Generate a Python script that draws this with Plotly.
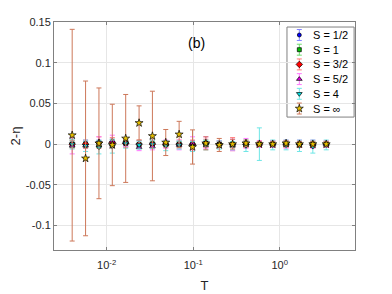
import plotly.graph_objects as go

T = [0.0040, 0.00571, 0.00815, 0.01163, 0.0166, 0.0237, 0.0338, 0.0482, 0.0688, 0.0982,
     0.140, 0.200, 0.285, 0.407, 0.581, 0.829, 1.183, 1.688, 2.41, 3.44]

s_half = [0.000, -0.001, 0.001, 0.002, 0.001, 0.000, 0.001, 0.000, 0.000, 0.001,
          0.000, 0.001, 0.000, 0.000, 0.000, 0.001, 0.000, 0.000, -0.001, 0.000]
s_half_err = [0.004, 0.004, 0.004, 0.004, 0.003, 0.004, 0.003, 0.003, 0.003, 0.003,
              0.003, 0.003, 0.003, 0.003, 0.003, 0.003, 0.003, 0.003, 0.003, 0.003]

s_one = [0.000, 0.000, 0.000, 0.002, 0.001, -0.001, 0.000, 0.000, 0.000, 0.000,
         0.001, 0.000, 0.000, 0.000, 0.000, 0.000, 0.000, 0.000, 0.000, 0.000]
s_one_err = [0.004, 0.004, 0.004, 0.004, 0.004, 0.003, 0.003, 0.003, 0.003, 0.003,
             0.003, 0.003, 0.003, 0.003, 0.003, 0.003, 0.003, 0.003, 0.003, 0.003]

s_3half = [0.000, 0.000, 0.002, 0.002, 0.001, 0.000, 0.000, 0.000, 0.000, 0.000,
           0.001, 0.000, 0.000, 0.000, 0.000, 0.000, 0.000, 0.000, 0.000, 0.000]
s_3half_err = [0.005, 0.005, 0.007, 0.006, 0.005, 0.005, 0.005, 0.004, 0.005, 0.005,
               0.005, 0.004, 0.008, 0.004, 0.004, 0.004, 0.004, 0.004, 0.004, 0.004]

s_5half = [-0.002, -0.002, 0.003, 0.004, 0.002, -0.004, -0.003, 0.000, -0.001, 0.001,
           0.002, 0.000, -0.001, 0.001, 0.000, 0.000, 0.000, 0.001, 0.000, 0.000]
s_5half_err = [0.010, 0.007, 0.006, 0.007, 0.005, 0.004, 0.004, 0.005, 0.006, 0.008,
               0.007, 0.004, 0.007, 0.006, 0.004, 0.004, 0.005, 0.004, 0.005, 0.004]

s_four = [0.000, -0.002, -0.004, -0.003, 0.001, -0.001, 0.000, -0.002, -0.001, -0.003,
          -0.001, -0.001, -0.002, -0.002, 0.000, -0.001, -0.001, -0.002, -0.003, -0.001]
s_four_err = [0.006, 0.007, 0.008, 0.008, 0.006, 0.005, 0.005, 0.006, 0.005, 0.006,
              0.006, 0.005, 0.005, 0.007, 0.020, 0.006, 0.006, 0.007, 0.008, 0.006]

s_inf = [0.011, -0.0175, 0.001, -0.001, 0.007, 0.026, 0.010, 0.002, 0.012, -0.0035,
         0.001, -0.001, 0.000, 0.001, 0.000, 0.000, 0.001, 0.000, 0.000, 0.000]
s_inf_err = [0.130, 0.095, 0.068, 0.050, 0.054, 0.021, 0.055, 0.016, 0.016, 0.021,
             0.008, 0.008, 0.006, 0.004, 0.003, 0.003, 0.003, 0.003, 0.003, 0.003]

names = ["S = 1/2", "S = 1", "S = 3/2", "S = 5/2", "S = 4", "S = ∞"]
ys = [s_half, s_one, s_3half, s_5half, s_four, s_inf]
errs = [s_half_err, s_one_err, s_3half_err, s_5half_err, s_four_err, s_inf_err]
symbols = ["circle", "square", "diamond", "triangle-up", "triangle-down", "star"]
face = ["#0000ff", "#00c000", "#ff0000", "#e000e0", "#00e0e0", "#e8c000"]
ecol = ["rgb(130,130,255)", "rgb(110,220,110)", "rgb(255,120,120)", "rgb(255,120,255)",
        "rgb(110,230,230)", "rgb(205,120,90)"]
sizes = [4, 4, 5, 5, 5, 6]

fig = go.Figure()
for n, y, e, sy, fc, ec, sz in zip(names, ys, errs, symbols, face, ecol, sizes):
    fig.add_trace(go.Scatter(
        x=T, y=y, mode="markers", name=n, showlegend=False,
        marker=dict(symbol=sy, size=sz, color=fc, line=dict(color="black", width=0.7)),
        error_y=dict(type="data", array=e, visible=True, color=ec, thickness=1, width=2.5),
    ))

# compact legend box (plotly's own legend rows are too tall for this small figure)
LEG_X0, LEG_X1, LEG_Y0, LEG_Y1 = 0.774, 0.997, 0.583, 0.978
GLYPH_X, TEXT_X = 0.815, 0.853
ROW_TOP, ROW_STEP = 0.943, 0.0645
fig.add_shape(type="rect", xref="paper", yref="paper",
              x0=LEG_X0, x1=LEG_X1, y0=LEG_Y0, y1=LEG_Y1,
              fillcolor="white", line=dict(color="#808080", width=1), layer="between")
for i, (n, sy, fc, ec, sz) in enumerate(zip(names, symbols, face, ecol, sizes)):
    yc = ROW_TOP - i * ROW_STEP
    fig.add_trace(go.Scatter(
        x=[GLYPH_X], y=[yc], xaxis="x2", yaxis="y2", mode="markers", showlegend=False,
        hoverinfo="skip",
        marker=dict(symbol=sy, size=sz, color=fc, line=dict(color="black", width=0.7)),
        error_y=dict(type="data", array=[0.024], visible=True, color=ec, thickness=1, width=2.5),
    ))
    fig.add_annotation(x=TEXT_X, y=yc, xref="paper", yref="paper", text=n,
                       xanchor="left", yanchor="middle", showarrow=False,
                       font=dict(size=11, color="black"))

fig.add_annotation(x=0.475, y=0.95, xref="paper", yref="paper", text="(b)",
                   showarrow=False, font=dict(size=14, color="black"))

axis_common = dict(showline=True, linecolor="#808080", linewidth=1, mirror="ticks",
                   ticks="inside", ticklen=3, tickcolor="#808080", automargin=False,
                   showgrid=True, gridcolor="#e6e6e6", gridwidth=1, zeroline=False,
                   tickfont=dict(size=11, color="#262626"))

# page body has an 8px margin: figure is shifted, so size/margins compensate
fig.update_layout(
    width=384, height=286,
    margin=dict(l=46, r=37, t=14, b=44),
    paper_bgcolor="white", plot_bgcolor="white",
    font=dict(family="Liberation Sans, Arial, sans-serif", color="#262626"),
    showlegend=False,
    xaxis=dict(type="log", range=[-2.608, 0.869],
               tickvals=[0.01, 0.1, 1],
               ticktext=["10<sup>-2</sup>", "10<sup>-1</sup>", "10<sup>0</sup>"],
               ticklabelstandoff=5,
               title=dict(text="T", font=dict(size=13, color="#262626"), standoff=10),
               **axis_common),
    yaxis=dict(range=[-0.13, 0.15],
               tickvals=[-0.1, -0.05, 0, 0.05, 0.1, 0.15],
               ticktext=["-0.1", "-0.05", "0", "0.05", "0.1", "0.15"],
               title=dict(text="2-η", font=dict(size=13, color="#262626"), standoff=6),
               **axis_common),
    xaxis2=dict(overlaying="x", range=[0, 1], visible=False, fixedrange=True),
    yaxis2=dict(overlaying="y", range=[0, 1], visible=False, fixedrange=True),
)

fig.write_html("out.html")
